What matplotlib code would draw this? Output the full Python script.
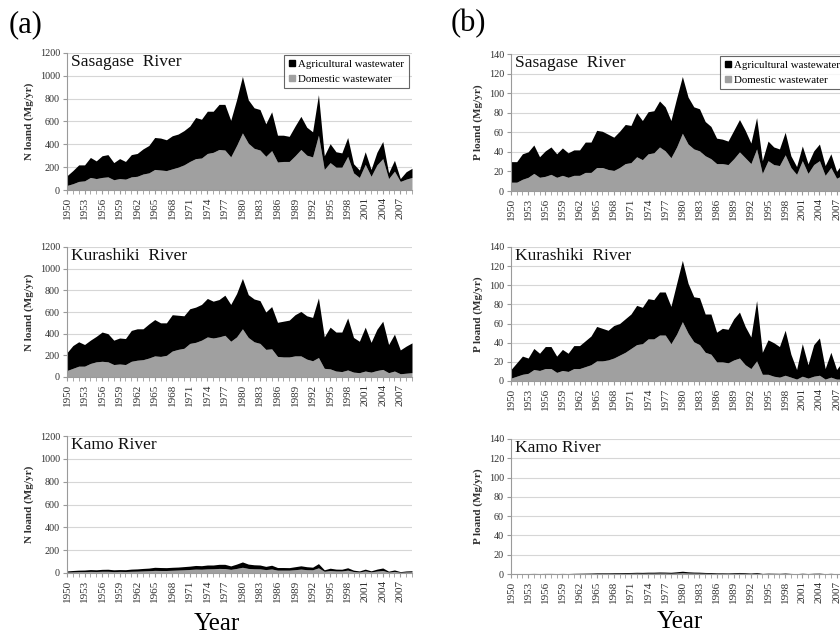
import numpy as np
import matplotlib
matplotlib.use("Agg")
import matplotlib.pyplot as plt
from matplotlib.lines import Line2D

plt.rcParams['font.family'] = ['Liberation Serif', 'DejaVu Serif']

years = list(range(1950, 2010))

# N load (Mg/yr): total (domestic + agricultural) and domestic part
sas_n_total = [125, 170, 220, 220, 285, 255, 300, 310, 240, 275,
               250, 310, 320, 360, 390, 460, 455, 440, 475, 490,
               520, 560, 635, 620, 690, 690, 750, 750, 610, 790,
               995, 790, 720, 705, 580, 685, 480, 480, 470, 560,
               645, 550, 510, 835, 300, 405, 335, 325, 460, 230,
               175, 335, 180, 330, 425, 150, 260, 100, 160, 190]
sas_n_dom = [40, 55, 75, 80, 110, 100, 110, 115, 90, 100,
             95, 115, 120, 140, 150, 180, 175, 170, 185, 200,
             220, 250, 275, 280, 320, 330, 355, 350, 290, 390,
             500, 410, 365, 350, 295, 345, 245, 250, 250, 300,
             355, 305, 290, 480, 180, 240, 200, 200, 295, 150,
             110, 225, 120, 220, 275, 100, 165, 75, 95, 110]

kur_n_total = [225, 290, 325, 300, 340, 375, 415, 400, 340, 360,
               355, 430, 445, 445, 490, 530, 500, 500, 575, 570,
               565, 630, 645, 670, 725, 700, 715, 755, 670, 770,
               910, 760, 720, 705, 600, 650, 505, 515, 525, 575,
               605, 565, 550, 730, 370, 460, 415, 415, 545, 365,
               330, 460, 320, 440, 515, 300, 395, 250, 285, 315]
kur_n_dom = [60, 80, 100, 100, 125, 140, 145, 140, 115, 120,
             115, 145, 155, 160, 175, 195, 190, 200, 240, 255,
             265, 310, 320, 340, 370, 360, 370, 385, 330, 370,
             445, 365, 325, 310, 255, 260, 190, 185, 185, 195,
             195, 165, 150, 180, 80, 75, 55, 50, 65, 45,
             40, 55, 45, 60, 70, 40, 55, 30, 35, 40]

kamo_n_total = [18, 22, 25, 26, 30, 28, 32, 33, 28, 30,
                29, 34, 36, 40, 43, 50, 48, 47, 50, 52,
                56, 60, 66, 64, 70, 70, 76, 76, 62, 78,
                97, 78, 72, 70, 58, 68, 48, 48, 47, 55,
                63, 55, 51, 82, 28, 42, 34, 33, 46, 25,
                18, 34, 19, 34, 44, 16, 27, 12, 18, 20]
kamo_n_dom = [8, 10, 12, 12, 14, 13, 15, 15, 12, 14,
              13, 15, 16, 18, 20, 23, 22, 22, 24, 26,
              28, 31, 34, 33, 36, 37, 40, 39, 32, 40,
              50, 40, 37, 36, 30, 35, 25, 25, 25, 29,
              34, 29, 28, 45, 15, 22, 18, 18, 25, 13,
              9, 18, 10, 17, 22, 8, 14, 6, 9, 10]

# P load (Mg/yr)
sas_p_total = [30, 30, 38, 40, 47, 35, 41, 45, 38, 44,
               39, 42, 42, 50, 50, 62, 61, 58, 55, 61,
               68, 67, 80, 72, 81, 82, 92, 86, 72, 95,
               117, 96, 86, 84, 71, 66, 54, 53, 51, 62,
               73, 62, 49, 75, 31, 51, 45, 43, 60, 36,
               25, 46, 28, 41, 48, 26, 38, 20, 28, 30]
sas_p_dom = [9, 9, 12, 14, 18, 14, 15, 17, 14, 16,
             14, 16, 16, 19, 19, 24, 24, 22, 21, 24,
             28, 29, 35, 32, 38, 39, 45, 41, 34, 45,
             59, 48, 43, 41, 36, 33, 28, 28, 27, 33,
             40, 34, 28, 43, 18, 31, 27, 26, 37, 24,
             17, 31, 18, 27, 31, 16, 24, 13, 16, 18]

kur_p_total = [12, 19, 26, 24, 34, 29, 36, 36, 26, 33,
               29, 37, 37, 42, 47, 57, 55, 53, 58, 60,
               65, 70, 79, 77, 86, 85, 93, 93, 78, 102,
               126, 102, 88, 87, 70, 70, 51, 55, 54, 65,
               72, 57, 46, 84, 30, 43, 40, 36, 53, 28,
               12, 39, 17, 38, 45, 13, 30, 12, 20, 22]
kur_p_dom = [3, 5, 7, 8, 12, 11, 13, 13, 9, 11,
             10, 13, 13, 15, 17, 21, 21, 22, 24, 27,
             30, 34, 38, 39, 44, 44, 48, 48, 39, 49,
             62, 50, 41, 38, 30, 28, 20, 20, 19, 22,
             24, 17, 13, 21, 7, 7, 5, 4, 6, 4,
             2, 5, 3, 5, 6, 2, 4, 2, 2, 3]

kamo_p_total = [0.4, 0.4, 0.5, 0.5, 0.6, 0.5, 0.6, 0.6, 0.5, 0.6,
                0.5, 0.7, 0.8, 0.9, 1.0, 1.2, 1.2, 1.2, 1.3, 1.4,
                1.5, 1.6, 1.8, 1.7, 1.9, 1.9, 2.1, 2.0, 1.8, 2.3,
                2.9, 2.3, 2.0, 1.9, 1.6, 1.5, 1.2, 1.2, 1.1, 1.4,
                1.6, 1.3, 1.0, 1.6, 0.6, 0.9, 0.8, 0.7, 1.0, 0.6,
                0.4, 0.8, 0.5, 0.8, 0.9, 0.4, 0.7, 0.3, 0.5, 0.5]
kamo_p_dom = [0.2, 0.2, 0.2, 0.2, 0.3, 0.2, 0.3, 0.3, 0.2, 0.3,
              0.2, 0.3, 0.3, 0.4, 0.4, 0.5, 0.5, 0.5, 0.5, 0.6,
              0.6, 0.7, 0.8, 0.7, 0.8, 0.8, 0.9, 0.9, 0.7, 1.0,
              1.3, 1.0, 0.9, 0.8, 0.7, 0.6, 0.5, 0.5, 0.5, 0.6,
              0.7, 0.5, 0.4, 0.7, 0.2, 0.4, 0.3, 0.3, 0.4, 0.2,
              0.2, 0.3, 0.2, 0.3, 0.4, 0.2, 0.3, 0.1, 0.2, 0.2]

rivers = ['Sasagase  River', 'Kurashiki  River', 'Kamo River']

GRAY = '#a0a0a0'
AXCOL = '#9a9a9a'
TXT = '#303030'

W, H = 840, 637
fig = plt.figure(figsize=(W / 100, H / 100), dpi=100)


def px_axes(left, top, right, bottom):
    return fig.add_axes([left / W, 1 - bottom / H, (right - left) / W, (bottom - top) / H])


def draw_panel(ax, total, dom, name, ymax, ystep, ylabel, legend=False):
    ax.fill_between(years, 0, dom, color=GRAY, lw=0, zorder=2)
    ax.fill_between(years, dom, total, color='black', lw=0, zorder=2)
    ax.set_xlim(1950, 2009)
    ax.set_ylim(0, ymax)
    ax.set_yticks(np.arange(0, ymax + 1, ystep))
    ax.yaxis.grid(True, color='#d6d6d6', lw=0.8, zorder=0)
    ax.set_axisbelow(True)
    ax.set_xticks(np.arange(1950, 2010, 3))
    ax.set_xticks(np.arange(1950, 2010, 1), minor=True)
    ax.set_xticklabels([str(y) for y in range(1950, 2010, 3)], rotation=90)
    ax.tick_params(axis='both', which='both', direction='out', length=3,
                   color=AXCOL, labelsize=7.3, labelcolor=TXT, pad=2)
    ax.tick_params(axis='x', labelsize=8)
    for s in ['top', 'right']:
        ax.spines[s].set_visible(False)
    for s in ['left', 'bottom']:
        ax.spines[s].set_color(AXCOL)
        ax.spines[s].set_linewidth(0.8)
    ax.set_ylabel(ylabel, fontsize=8, fontweight='bold', color=TXT, labelpad=4)
    ax.text(0.012, 0.99, name, transform=ax.transAxes, ha='left', va='top',
            fontsize=12.5, color='#111111', zorder=5)
    if legend:
        handles = [Line2D([], [], marker='s', ls='none', color='black', markersize=4.5),
                   Line2D([], [], marker='s', ls='none', color=GRAY, markersize=4.5)]
        leg = ax.legend(handles, ['Agricultural wastewater', 'Domestic wastewater'],
                        loc='upper right', bbox_to_anchor=(0.99, 0.985), fontsize=7.8,
                        frameon=True, fancybox=False, handlelength=0.7, handletextpad=0.2,
                        labelspacing=0.5, borderpad=0.4, borderaxespad=0)
        leg.get_frame().set_edgecolor('#404040')
        leg.get_frame().set_linewidth(0.8)


n_sets = [(sas_n_total, sas_n_dom), (kur_n_total, kur_n_dom), (kamo_n_total, kamo_n_dom)]
p_sets = [(sas_p_total, sas_p_dom), (kur_p_total, kur_p_dom), (kamo_p_total, kamo_p_dom)]

left_rows = [(53, 190), (247, 377), (436, 573)]
right_rows = [(54, 191), (247, 381), (439, 574)]

for i in range(3):
    ax = px_axes(67, left_rows[i][0], 412, left_rows[i][1])
    draw_panel(ax, n_sets[i][0], n_sets[i][1], rivers[i], 1200, 200,
               'N loand (Mg/yr)', legend=(i == 0))
    ax = px_axes(511, right_rows[i][0], 848, right_rows[i][1])
    draw_panel(ax, p_sets[i][0], p_sets[i][1], rivers[i], 140, 20,
               'P loand (Mg/yr)', legend=(i == 0))

fig.text(26 / W, 1 - 25 / H, '(a)', fontsize=22, ha='center', va='center')
fig.text(468 / W, 1 - 24 / H, '(b)', fontsize=22, ha='center', va='center')
fig.text(217 / W, 1 - 624 / H, 'Year', fontsize=18, ha='center', va='center')
fig.text(680 / W, 1 - 622 / H, 'Year', fontsize=18, ha='center', va='center')

fig.savefig('out.png', dpi=100)
